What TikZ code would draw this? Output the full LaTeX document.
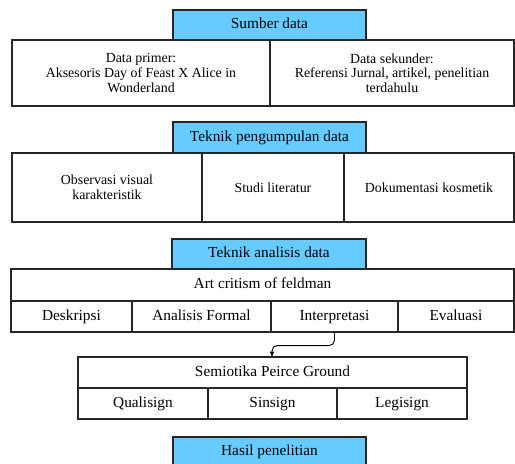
\documentclass[tikz,border=0pt]{standalone}
\usepackage{fontspec}
\setmainfont{Liberation Serif}
\usetikzlibrary{arrows.meta}
\definecolor{hdr}{RGB}{102,204,255}
\tikzset{
  box/.style={draw=black!85, line width=0.8pt, inner sep=0pt, align=center},
  sz/.style 2 args={minimum width=#1*0.75pt, minimum height=#2*0.75pt},
  one/.style={text height=8pt, text depth=2.5pt},
  head/.style={box, one, fill=hdr, line width=1pt, font=\fontsize{11.5}{13}\selectfont},
  small/.style={box, font=\fontsize{10.4}{11}\selectfont},
  big/.style={box, one, font=\fontsize{11.5}{13}\selectfont},
  conn/.style={line width=0.7pt, rounded corners=4pt, -{Latex[length=4pt,width=3.6pt]}}
}
\begin{document}
\begin{tikzpicture}[x=0.75pt,y=-0.75pt]
\useasboundingbox (0,0) rectangle (515,464);
% Sumber data
\node[small, sz={258}{66}] (prim) at (141,73) {Data primer:\\Aksesoris Day of Feast X Alice in\\Wonderland};
\node[small, sz={244}{66}] (sek) at (392,73) {Data sekunder:\\Referensi Jurnal, artikel, penelitian\\terdahulu};
\node[head, sz={193}{30}] (sumber) at (269.5,25) {Sumber data};
% Teknik pengumpulan data
\node[small, sz={190}{69}] (obs) at (107,187.5) {Observasi visual\\karakteristik};
\node[small, sz={142}{69}] (studi) at (273,187.5) {Studi literatur};
\node[small, sz={170}{69}] (dok) at (429,187.5) {Dokumentasi kosmetik};
\node[head, sz={193}{31}] (tpd) at (269.5,137.5) {Teknik pengumpulan data};
% Teknik analisis data
\node[big, sz={503}{32}] (art) at (262.5,285) {Art critism of feldman};
\node[big, sz={121}{31}] (desk) at (71.5,316.5) {Deskripsi};
\node[big, sz={139}{31}] (anf) at (201.5,316.5) {Analisis Formal};
\node[big, sz={127}{31}] (interp) at (334.5,316.5) {Interpretasi};
\node[big, sz={116}{31}] (eval) at (456,316.5) {Evaluasi};
\node[head, sz={194}{30}] (tad) at (269,254) {Teknik analisis data};
% Semiotika
\node[big, sz={389}{31}] (semio) at (272.5,372.5) {Semiotika Peirce Ground};
\node[big, sz={130}{31}] (qual) at (143,403.5) {Qualisign};
\node[big, sz={129}{31}] (sin) at (272.5,403.5) {Sinsign};
\node[big, sz={130}{31}] (leg) at (402,403.5) {Legisign};
% Hasil
\node[head, sz={193}{30}] (hasil) at (269.5,452) {Hasil penelitian};
% connector
\coordinate (sj) at (272,357);
\draw[conn] (interp.south) -- ++(0,13) -| (sj);
\end{tikzpicture}
\end{document}
